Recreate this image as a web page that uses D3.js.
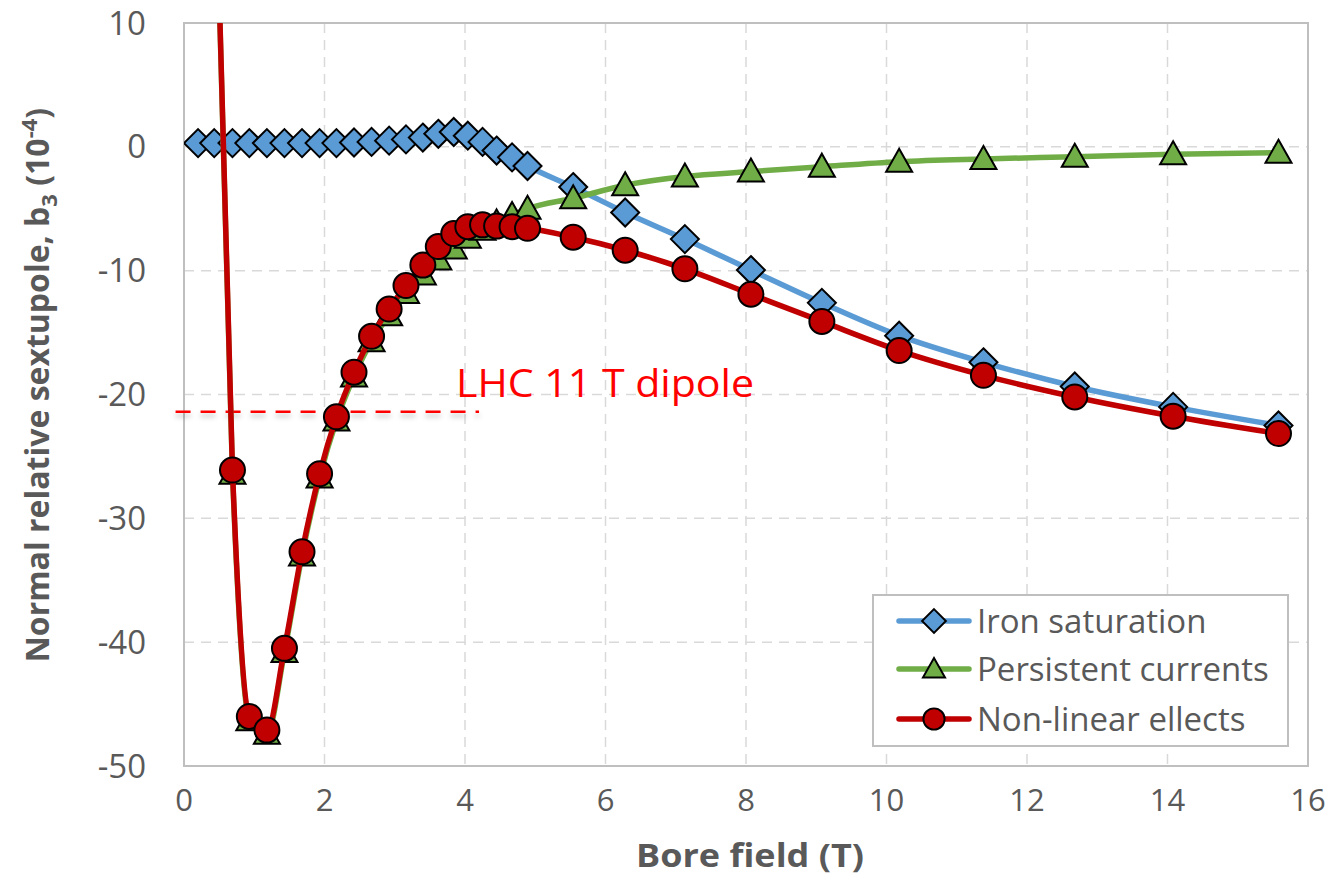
<!DOCTYPE html>
<html>
<head>
<meta charset="utf-8">
<script src="https://cdn.jsdelivr.net/npm/d3@7"></script>
<style>
  body { margin: 0; background: #fff; }
  text { font-family: "Open Sans", "Noto Sans", sans-serif; }
</style>
</head>
<body>
<script>
// bore field (T) for each measured point
const fieldDense = [0.2, 0.43, 0.69, 0.93, 1.18, 1.43, 1.68, 1.93, 2.17, 2.42, 2.67, 2.92, 3.16, 3.40, 3.62, 3.84, 4.04, 4.25, 4.45, 4.67, 4.89];
const fieldHigh  = [5.54, 6.28, 7.13, 8.07, 9.08, 10.18, 11.38, 12.68, 14.08, 15.58];

// b3 values, units 1e-4
const ironSat = [0.3, 0.3, 0.3, 0.3, 0.3, 0.3, 0.3, 0.3, 0.3, 0.35, 0.4, 0.5, 0.6, 0.75, 1.05, 1.2, 0.9, 0.4, -0.3, -0.85, -1.55,
                 -3.25, -5.3, -7.45, -9.95, -12.6, -15.25, -17.4, -19.35, -21.0, -22.5];
const persistent = [88, 26.5, -26.4, -46.3, -47.4, -40.8, -33.0, -26.7, -22.1, -18.55, -15.7, -13.6, -11.8, -10.3, -9.1, -8.2, -7.35, -6.7, -6.1, -5.5, -5.0,
                    -4.15, -3.1, -2.4, -2.0, -1.6, -1.2, -0.98, -0.8, -0.6, -0.48];
const nonLinear = [88.3, 26.8, -26.1, -46.0, -47.1, -40.5, -32.7, -26.4, -21.8, -18.2, -15.3, -13.1, -11.2, -9.55, -8.05, -7.0, -6.45, -6.3, -6.4, -6.45, -6.58,
                   -7.3, -8.35, -9.85, -11.9, -14.1, -16.45, -18.45, -20.2, -21.75, -23.15];

const legendNames = ["Iron saturation", "Persistent currents", "Non-linear ellects"];
const xTicks = [0, 2, 4, 6, 8, 10, 12, 14, 16];
const yTicks = [10, 0, -10, -20, -30, -40, -50];
const dipoleLevel = -21.4;
const dipoleLabel = "LHC 11 T dipole";

const field = fieldDense.concat(fieldHigh);
const series = [
  {name: legendNames[0], values: ironSat,    color: "#5B9BD5", marker: "diamond"},
  {name: legendNames[1], values: persistent, color: "#70AD47", marker: "triangle"},
  {name: legendNames[2], values: nonLinear,  color: "#C00000", marker: "circle"}
];

const W = 1335, H = 885;
const plot = {left: 184, right: 1308, top: 23, bottom: 766};
const textColor = "#595959";

const svg = d3.select("body").append("svg")
    .attr("width", W)
    .attr("height", H);

const defs = svg.append("defs");
defs.append("clipPath").attr("id", "plotclip")
  .append("rect")
    .attr("x", plot.left).attr("y", plot.top)
    .attr("width", plot.right - plot.left).attr("height", plot.bottom - plot.top);
const shadow = defs.append("filter").attr("id", "shadow")
    .attr("filterUnits", "userSpaceOnUse")
    .attr("x", 150).attr("y", 390).attr("width", 360).attr("height", 50);
shadow.append("feDropShadow")
    .attr("dx", 0).attr("dy", 4).attr("stdDeviation", 2.5)
    .attr("flood-color", "#000").attr("flood-opacity", 0.25);

const x = d3.scaleLinear().domain([0, 16]).range([plot.left, plot.right]);
const y = d3.scaleLinear().domain([-50, 10]).range([plot.bottom, plot.top]);

// grid
svg.append("g").selectAll("line").data(xTicks.slice(1, -1)).join("line")
    .attr("x1", d => x(d)).attr("x2", d => x(d))
    .attr("y1", plot.top).attr("y2", plot.bottom)
    .attr("stroke", "#D9D9D9").attr("stroke-width", 1.5).attr("stroke-dasharray", "10,7");
svg.append("g").selectAll("line").data(yTicks.slice(1, -1)).join("line")
    .attr("x1", plot.left).attr("x2", plot.right)
    .attr("y1", d => y(d)).attr("y2", d => y(d))
    .attr("stroke", "#D9D9D9").attr("stroke-width", 1.5).attr("stroke-dasharray", "10,7");

// plot border
svg.append("rect")
    .attr("x", plot.left).attr("y", plot.top)
    .attr("width", plot.right - plot.left).attr("height", plot.bottom - plot.top)
    .attr("fill", "none").attr("stroke", "#BFBFBF").attr("stroke-width", 2);

// tick labels
svg.append("g").selectAll("text").data(yTicks).join("text")
    .attr("x", 146).attr("y", d => y(d))
    .attr("dy", "0.35em")
    .attr("text-anchor", "end")
    .attr("font-size", 33)
    .attr("fill", textColor)
    .text(d => d);
svg.append("g").selectAll("text").data(xTicks).join("text")
    .attr("x", d => x(d)).attr("y", 800)
    .attr("dy", "0.35em")
    .attr("text-anchor", "middle")
    .attr("font-size", 31)
    .attr("fill", textColor)
    .text(d => d);

// axis titles
svg.append("text")
    .attr("x", 750).attr("y", 867)
    .attr("text-anchor", "middle")
    .attr("font-size", 32).attr("font-weight", "bold")
    .attr("fill", textColor)
    .attr("textLength", 228).attr("lengthAdjust", "spacingAndGlyphs")
    .text("Bore field (T)");

const yTitle = svg.append("text")
    .attr("transform", "translate(49,385) rotate(-90)")
    .attr("text-anchor", "middle")
    .attr("font-size", 32).attr("font-weight", "bold")
    .attr("fill", textColor);
yTitle.append("tspan").text("Normal relative sextupole, b");
yTitle.append("tspan").attr("font-size", 22).attr("dy", 8).text("3");
yTitle.append("tspan").attr("dy", -8).text(" (10");
yTitle.append("tspan").attr("font-size", 22).attr("dy", -12).text("-4");
yTitle.append("tspan").attr("dy", 12).text(")");

// LHC 11 T dipole reference
svg.append("line")
    .attr("x1", x(-0.12)).attr("x2", x(4.2))
    .attr("y1", y(dipoleLevel)).attr("y2", y(dipoleLevel))
    .attr("stroke", "#FF0000").attr("stroke-width", 2.5)
    .attr("stroke-dasharray", "15,10")
    .attr("filter", "url(#shadow)");
svg.append("text")
    .attr("x", 456).attr("y", 397)
    .attr("font-size", 39)
    .attr("fill", "#FF0000")
    .attr("textLength", 298).attr("lengthAdjust", "spacingAndGlyphs")
    .text(dipoleLabel);

// markers
function markerPath(type) {
  if (type === "diamond") return "M0,-14L14,0L0,14L-14,0Z";
  if (type === "triangle") return "M0,-13L13,10L-13,10Z";
  return d3.symbol(d3.symbolCircle, Math.PI * 12.5 * 12.5)();
}

const line = d3.line()
    .x(d => x(d[0]))
    .y(d => y(d[1]))
    .curve(d3.curveMonotoneX);

const plotArea = svg.append("g").attr("clip-path", "url(#plotclip)");

series.forEach(s => {
  const pts = field.map((f, i) => [f, s.values[i]]);
  plotArea.append("path")
      .datum(pts)
      .attr("d", line)
      .attr("fill", "none")
      .attr("stroke", s.color)
      .attr("stroke-width", 5.5)
      .attr("stroke-linejoin", "round");
  plotArea.append("g").selectAll("path")
    .data(pts.filter(p => p[1] <= 10 && p[1] >= -50))
    .join("path")
      .attr("transform", d => "translate(" + x(d[0]) + "," + y(d[1]) + ")")
      .attr("d", markerPath(s.marker))
      .attr("fill", s.color)
      .attr("stroke", "#000")
      .attr("stroke-width", 2);
});

// legend
const lg = svg.append("g");
lg.append("rect")
    .attr("x", 873).attr("y", 595)
    .attr("width", 415).attr("height", 151)
    .attr("fill", "#fff").attr("stroke", "#BFBFBF").attr("stroke-width", 2);
const rowY = [621, 669, 719];
series.forEach((s, i) => {
  const row = lg.append("g").attr("transform", "translate(0," + rowY[i] + ")");
  row.append("line")
      .attr("x1", 899).attr("x2", 969)
      .attr("stroke", s.color).attr("stroke-width", 5.5).attr("stroke-linecap", "round");
  row.append("path")
      .attr("transform", "translate(934,0) scale(0.85)")
      .attr("d", markerPath(s.marker))
      .attr("fill", s.color).attr("stroke", "#000").attr("stroke-width", 2.3);
  row.append("text")
      .attr("x", 977).attr("dy", "0.35em")
      .attr("font-size", 33)
      .attr("fill", textColor)
      .text(s.name);
});
</script>
</body>
</html>
